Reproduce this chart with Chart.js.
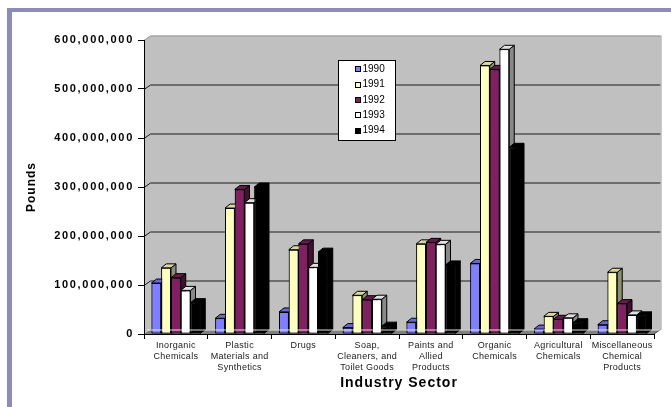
<!DOCTYPE html>
<html>
<head>
<meta charset="utf-8">
<script src="https://cdn.jsdelivr.net/npm/chart.js@4/dist/chart.umd.min.js"></script>
<style>
  html, body { margin: 0; padding: 0; background: #ffffff; }
  canvas { display: block; }
</style>
</head>
<body>
<canvas id="chart" width="671" height="407"></canvas>
<script>
// Industry sectors (multi-line axis labels)
const categories = [
  ['Inorganic', 'Chemicals'],
  ['Plastic', 'Materials and', 'Synthetics'],
  ['Drugs'],
  ['Soap,', 'Cleaners, and', 'Toilet Goods'],
  ['Paints and', 'Allied', 'Products'],
  ['Organic', 'Chemicals'],
  ['Agricultural', 'Chemicals'],
  ['Miscellaneous', 'Chemical', 'Products']
];

const years = ['1990', '1991', '1992', '1993', '1994'];

// Pounds per sector and year
const pounds1990 = [104000000,  32000000,  45000000, 13000000,  24000000, 144000000, 10000000,  19000000];
const pounds1991 = [135000000, 257000000, 172000000, 79000000, 184000000, 548000000, 36000000, 126000000];
const pounds1992 = [115000000, 295000000, 184000000, 70000000, 187000000, 540000000, 30000000,  62000000];
const pounds1993 = [ 89000000, 268000000, 136000000, 71000000, 183000000, 581000000, 33000000,  39000000];
const pounds1994 = [ 64000000, 300000000, 167000000, 16000000, 141000000, 381000000, 23000000,  37000000];

const seriesValues = [pounds1990, pounds1991, pounds1992, pounds1993, pounds1994];

// Value axis range
const yMax = 600000000;
const yStep = 100000000;

// Face colours per year: front, top, side
const palette = [
  { front: '#8080FF', top: '#6868D8', side: '#40408C' },
  { front: '#FFFFC0', top: '#D8D8A0', side: '#8E8E70' },
  { front: '#802060', top: '#681A4E', side: '#440F32' },
  { front: '#FFFFFF', top: '#E0E0E0', side: '#888888' },
  { front: '#000000', top: '#000000', side: '#000000' }
];

const FONT = '"Liberation Sans", Arial, sans-serif';
Chart.defaults.font.family = FONT;
Chart.defaults.color = '#000000';

// depth of the back wall and of each bar
const WALL_DX = 6.5, WALL_DY = 4.5;
const BAR_DX = 5, BAR_DY = 4;

function withSpacing(fn, spacing) {
  return function (...args) {
    const c = this.ctx;
    const prev = c.letterSpacing;
    c.letterSpacing = spacing;
    fn.apply(this, args);
    c.letterSpacing = prev || '0px';
  };
}

const spacingPlugin = {
  id: 'spacing',
  afterLayout(chart) {
    const x = chart.scales.x, y = chart.scales.y;
    if (!x._spaced) {
      const p = Object.getPrototypeOf(x);
      x.drawLabels = withSpacing(p.drawLabels, '0.3px');
      x.drawTitle = withSpacing(p.drawTitle, '1px');
      x._spaced = true;
    }
    if (!y._spaced) {
      const p = Object.getPrototypeOf(y);
      y.drawLabels = withSpacing(p.drawLabels, '1.7px');
      y.drawTitle = withSpacing(p.drawTitle, '1px');
      y._spaced = true;
    }
  }
};

// Page frame, back wall, floor and wall gridlines
const wallPlugin = {
  id: 'wall',
  beforeDraw(chart) {
    const ctx = chart.ctx;
    const { left: L, right: R, top: T, bottom: B } = chart.chartArea;
    ctx.save();
    ctx.fillStyle = '#ffffff';
    ctx.fillRect(0, 0, chart.width, chart.height);
    // frame
    ctx.fillStyle = '#8C8CB6';
    ctx.fillRect(7, 8, chart.width - 7, 4);
    ctx.fillRect(7, 8, 5, chart.height - 8);

    // wall (side + back)
    ctx.fillStyle = '#C0C0C0';
    ctx.beginPath();
    ctx.moveTo(L, T);
    ctx.lineTo(L + WALL_DX, T - WALL_DY);
    ctx.lineTo(R + WALL_DX, T - WALL_DY);
    ctx.lineTo(R + WALL_DX, B - WALL_DY);
    ctx.lineTo(L, B);
    ctx.closePath();
    ctx.fill();

    // floor
    ctx.fillStyle = '#808080';
    ctx.beginPath();
    ctx.moveTo(L, B);
    ctx.lineTo(L + WALL_DX, B - WALL_DY);
    ctx.lineTo(R + WALL_DX, B - WALL_DY);
    ctx.lineTo(R, B);
    ctx.closePath();
    ctx.fill();

    // gridlines on the wall
    const ys = chart.scales.y;
    ys.ticks.forEach(t => {
      if (t.value === 0) return;
      const py = Math.round(ys.getPixelForValue(t.value)) + 0.5;
      ctx.strokeStyle = t.value === yMax ? '#9A9A9A' : '#1A1A1A';
      ctx.lineWidth = 1;
      ctx.beginPath();
      ctx.moveTo(L, py);
      ctx.lineTo(L + WALL_DX, py - WALL_DY);
      ctx.lineTo(R + WALL_DX, py - WALL_DY);
      ctx.stroke();
    });
    // right edge of the wall
    ctx.strokeStyle = '#9A9A9A';
    ctx.beginPath();
    ctx.moveTo(R + WALL_DX + 0.5, T - WALL_DY);
    ctx.lineTo(R + WALL_DX + 0.5, B - WALL_DY);
    ctx.stroke();
    // right edge of the floor
    ctx.strokeStyle = '#404040';
    ctx.beginPath();
    ctx.moveTo(R, B);
    ctx.lineTo(R + WALL_DX, B - WALL_DY);
    ctx.stroke();
    ctx.restore();
  }
};

// Bars are painted year by year, left to right, each with its front,
// side and top faces, so a neighbouring front hides the faces behind it.
const depthPlugin = {
  id: 'depth',
  afterDatasetsDraw(chart) {
    const ctx = chart.ctx;
    const { left: L, right: R, bottom: B } = chart.chartArea;
    ctx.save();
    chart.data.datasets.forEach((ds, di) => {
      const meta = chart.getDatasetMeta(di);
      const col = palette[di];
      meta.data.forEach(el => {
        el.draw(ctx);
        const { x, y, base, width } = el.getProps(['x', 'y', 'base', 'width'], true);
        const l = x - width / 2, r = x + width / 2;
        ctx.lineWidth = 1;
        ctx.strokeStyle = '#000000';
        ctx.lineJoin = 'miter';
        // side
        ctx.fillStyle = col.side;
        ctx.beginPath();
        ctx.moveTo(r, y);
        ctx.lineTo(r + BAR_DX, y - BAR_DY);
        ctx.lineTo(r + BAR_DX, base - BAR_DY);
        ctx.lineTo(r, base);
        ctx.closePath();
        ctx.fill();
        ctx.stroke();
        // top
        ctx.fillStyle = col.top;
        ctx.beginPath();
        ctx.moveTo(l, y);
        ctx.lineTo(l + BAR_DX, y - BAR_DY);
        ctx.lineTo(r + BAR_DX, y - BAR_DY);
        ctx.lineTo(r, y);
        ctx.closePath();
        ctx.fill();
        ctx.stroke();
      });
    });
    // light edge at the back of the floor
    ctx.strokeStyle = 'rgba(245,245,245,0.9)';
    ctx.lineWidth = 1.2;
    ctx.beginPath();
    ctx.moveTo(L + 3, B - WALL_DY + 0.5);
    ctx.lineTo(R + WALL_DX, B - WALL_DY + 0.5);
    ctx.stroke();
    ctx.restore();
  }
};

// Boxed legend inside the plot
const boxLegendPlugin = {
  id: 'boxLegend',
  afterDraw(chart) {
    const ctx = chart.ctx;
    const bx = 338.5, by = 60.5, bw = 57, bh = 80;
    ctx.save();
    ctx.fillStyle = '#ffffff';
    ctx.strokeStyle = '#000000';
    ctx.lineWidth = 1;
    ctx.fillRect(bx, by, bw, bh);
    ctx.strokeRect(bx, by, bw, bh);
    ctx.font = '10px ' + FONT;
    ctx.textBaseline = 'middle';
    ctx.textAlign = 'left';
    chart.data.datasets.forEach((ds, i) => {
      const cy = 69.3 + i * 15.35;
      ctx.fillStyle = palette[i].front;
      ctx.fillRect(355.5, Math.round(cy) - 2.5, 5, 5);
      ctx.strokeRect(355.5, Math.round(cy) - 2.5, 5, 5);
      ctx.fillStyle = '#000000';
      ctx.fillText(ds.label, 362.5, cy);
    });
    ctx.restore();
  }
};

const datasets = years.map((yr, i) => ({
  label: yr,
  data: seriesValues[i],
  backgroundColor: palette[i].front,
  borderColor: '#000000',
  borderWidth: 1,
  borderSkipped: false,
  barPercentage: 1.0,
  categoryPercentage: 0.765
}));

new Chart(document.getElementById('chart'), {
  type: 'bar',
  data: { labels: categories, datasets },
  options: {
    responsive: false,
    animation: false,
    devicePixelRatio: 1,
    events: [],
    layout: { padding: { left: 22, right: 17, top: 40, bottom: 0 } },
    plugins: {
      legend: { display: false },
      tooltip: { enabled: false }
    },
    scales: {
      x: {
        type: 'category',
        offset: true,
        grid: {
          display: true,
          offset: true,
          drawOnChartArea: false,
          drawTicks: true,
          tickLength: 5,
          color: '#000000'
        },
        border: { display: true, color: '#000000', width: 1 },
        ticks: {
          autoSkip: false,
          maxRotation: 0,
          minRotation: 0,
          padding: 1.5,
          color: '#1A1A1A',
          font: { size: 9, lineHeight: 1.22 }
        },
        title: {
          display: true,
          text: 'Industry Sector',
          color: '#000000',
          font: { size: 14, weight: 'bold', lineHeight: 1.2 },
          padding: { top: 0, bottom: 15.6 }
        },
        afterFit(scale) { scale.height = 73; }
      },
      y: {
        min: 0,
        max: yMax,
        ticks: {
          stepSize: yStep,
          padding: 4,
          color: '#000000',
          font: { size: 11, weight: 'bold' },
          callback: v => Number(v).toLocaleString('en-US')
        },
        grid: {
          display: true,
          drawOnChartArea: false,
          drawTicks: true,
          tickLength: 6,
          color: '#000000'
        },
        border: { display: true, color: '#000000', width: 1 },
        title: {
          display: true,
          text: 'Pounds',
          color: '#000000',
          font: { size: 12, weight: 'bold', lineHeight: 1.2 },
          padding: { top: 2, bottom: 0 }
        },
        afterFit(scale) { scale.width = 122; }
      }
    }
  },
  plugins: [spacingPlugin, wallPlugin, depthPlugin, boxLegendPlugin]
});
</script>
</body>
</html>
